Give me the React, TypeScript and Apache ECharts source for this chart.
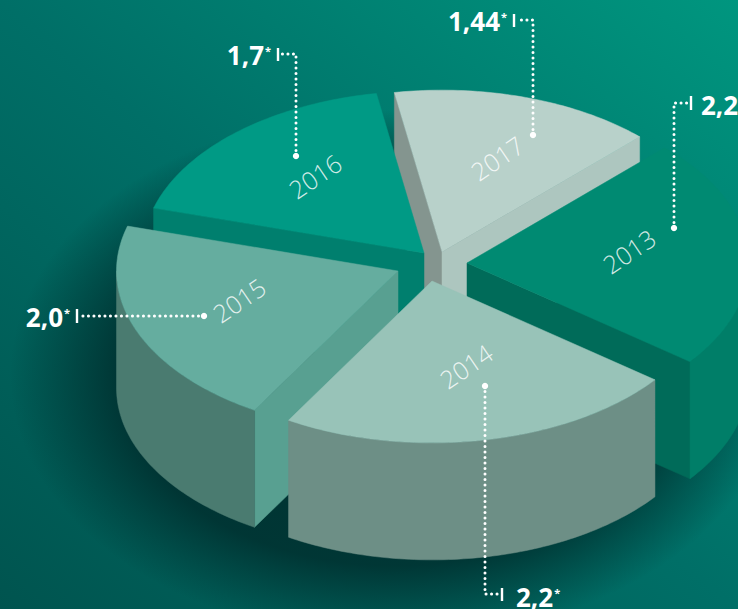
import React, { useEffect, useRef } from "react";
import * as echarts from "echarts";

const years = ["2013", "2014", "2015", "2016", "2017"];
const shares = [2.2, 2.2, 2.0, 1.7, 1.44];
const shareLabels = ["2,2", "2,2", "2,0", "1,7", "1,44"];
// Back slices are painted first so the front ones overlap them.
const paintOrder = [4, 3, 0, 2, 1];

const topColors = ["#008a72", "#98c3b8", "#65ad9f", "#009a85", "#b8d1ca"];
const wallColors = ["#007e68", "#6d8f86", "#4a7b70", "#007f6e", "#84958f"];
const startCutColors = ["#006b59", "#6d8f86", "#58a091", "#007f6e", "#84958f"];
const endCutColors = ["#006b59", "#6d8f86", "#4a7b70", "#007f6e", "#adc6bf"];

const WIDTH = 738;
const HEIGHT = 609;
const CENTER = [431, 263];
const RADIUS = 281.5;
const SQUASH = 0.575;
const DEPTH = 117;
const START_DEG = -45.4;
const explode = [[36, 0], [1, 18], [-33, 8], [-7, -10], [11, -11]];
const yearPlacement = [[629, 251], [466, 366], [239, 300], [315, 176], [497, 158]];

const total = shares.reduce((sum, v) => sum + v, 0);
const startAngles = shares.map((_, i) =>
  START_DEG + (shares.slice(0, i).reduce((sum, v) => sum + v, 0) / total) * 360
);

function renderSlice(params: any, api: any) {
  const idx = api.value(1);
  const sweep = (api.value(0) / total) * 360;
  const a0 = startAngles[idx];
  const a1 = a0 + sweep;
  const ax = CENTER[0] + explode[idx][0];
  const ay = CENTER[1] + explode[idx][1];
  const rim = (deg: number, drop = 0) => {
    const t = (deg * Math.PI) / 180;
    return [ax + RADIUS * Math.cos(t), ay + RADIUS * SQUASH * Math.sin(t) + drop];
  };
  const rimPoints: number[][] = [];
  for (let d = a0; d < a1; d += 1) rimPoints.push(rim(d));
  rimPoints.push(rim(a1));

  const base = params.dataIndex * 10;
  const children: any[] = [];
  const face = (points: number[][], fill: string, z: number) =>
    children.push({
      type: "polygon",
      z2: base + z,
      shape: { points },
      style: { fill, stroke: fill, lineWidth: 0.5 },
    });
  const cut = (deg: number, fill: string) =>
    face([[ax, ay], rim(deg), rim(deg, DEPTH), [ax, ay + DEPTH]], fill, 1);

  // A radial cut shows only when its outward normal points toward the viewer.
  if (Math.sin(((a0 - 90) * Math.PI) / 180) > 0) cut(a0, startCutColors[idx]);
  if (Math.sin(((a1 + 90) * Math.PI) / 180) > 0) cut(a1, endCutColors[idx]);

  // The outer wall is visible on the lower half of the ellipse only.
  const wallFrom = Math.max(a0, 0);
  const wallTo = Math.min(a1, 180);
  if (wallTo > wallFrom) {
    const upper: number[][] = [];
    const lower: number[][] = [];
    for (let d = wallFrom; d <= wallTo; d += 1) {
      upper.push(rim(d));
      lower.unshift(rim(d, DEPTH));
    }
    upper.push(rim(wallTo));
    lower.unshift(rim(wallTo, DEPTH));
    face(upper.concat(lower), wallColors[idx], 2);
  }

  face([[ax, ay], ...rimPoints], topColors[idx], 3);

  children.push({
    type: "text",
    x: yearPlacement[idx][0],
    y: yearPlacement[idx][1],
    rotation: 0.6,
    z2: base + 4,
    style: {
      text: years[idx],
      fill: "rgba(255,255,255,0.82)",
      font: '300 25px "Open Sans"',
      textAlign: "center",
      textVerticalAlign: "middle",
    },
  });
  return { type: "group", children };
}

type Callout = {
  slice: number;
  path: number[][];
  tick: number[];
  text: number[];
  align: string;
};

// Leader lines: from the dot on the slice to the short bar beside the figure.
const callouts: Callout[] = [
  { slice: 4, path: [[533, 135], [533, 20], [517, 20]], tick: [514, 14, 27], text: [507, 21], align: "right" },
  { slice: 3, path: [[296, 156], [296, 54], [282, 54]], tick: [278, 48, 61], text: [271, 55], align: "right" },
  { slice: 0, path: [[674, 228], [674, 103], [689, 103]], tick: [691, 96, 110], text: [701, 105], align: "left" },
  { slice: 2, path: [[204, 316], [81, 316]], tick: [77, 309, 323], text: [70, 317], align: "right" },
  { slice: 1, path: [[485, 386], [485, 594], [499, 594]], tick: [502, 588, 601], text: [516, 597], align: "left" },
];

function calloutElements() {
  const out: any[] = [];
  for (const c of callouts) {
    out.push({
      type: "polyline",
      z: 10,
      shape: { points: c.path },
      style: { stroke: "#ffffff", lineWidth: 3, lineDash: [0.1, 5.4], lineCap: "round", fill: null },
    });
    out.push({
      type: "circle",
      z: 10,
      shape: { cx: c.path[0][0], cy: c.path[0][1], r: 3.2 },
      style: { fill: "#ffffff" },
    });
    out.push({
      type: "line",
      z: 10,
      shape: { x1: c.tick[0], y1: c.tick[1], x2: c.tick[0], y2: c.tick[2] },
      style: { stroke: "#ffffff", lineWidth: 2.4 },
    });
    out.push({
      type: "text",
      z: 10,
      x: c.text[0],
      y: c.text[1],
      style: {
        text: `{v|${shareLabels[c.slice]}}{s|*}`,
        align: c.align,
        verticalAlign: "middle",
        rich: {
          v: { font: 'bold 26px "Open Sans"', fill: "#ffffff", lineHeight: 20, verticalAlign: "middle" },
          s: { font: 'bold 11px "Open Sans"', fill: "#ffffff", lineHeight: 11, verticalAlign: "top", padding: [0, 0, 0, 1] },
        },
      },
    });
  }
  return out;
}

export default function App() {
  const ref = useRef<HTMLDivElement>(null);

  useEffect(() => {
    document.body.style.margin = "0";
    const chart = echarts.init(ref.current!, undefined, { renderer: "svg" });
    chart.setOption({
      animation: false,
      backgroundColor: new echarts.graphic.LinearGradient(1, 0, 0, 1, [
        { offset: 0, color: "#00967f" },
        { offset: 0.5, color: "#006f67" },
        { offset: 1, color: "#00544f" },
      ]),
      graphic: {
        elements: [
          {
            type: "ellipse",
            z: -1,
            shape: { cx: 395, cy: 375, rx: 385, ry: 265 },
            style: {
              fill: new echarts.graphic.RadialGradient(0.5, 0.5, 0.5, [
                { offset: 0, color: "rgba(0,42,42,0.9)" },
                { offset: 0.72, color: "rgba(0,42,42,0.78)" },
                { offset: 1, color: "rgba(0,42,42,0)" },
              ]),
            },
          },
          ...calloutElements(),
        ],
      },
      series: [
        {
          type: "custom",
          coordinateSystem: "none",
          renderItem: renderSlice,
          silent: true,
          data: paintOrder.map((i) => [shares[i], i]),
        },
      ],
    });
    return () => chart.dispose();
  }, []);

  return <div ref={ref} style={{ width: WIDTH, height: HEIGHT }} />;
}
